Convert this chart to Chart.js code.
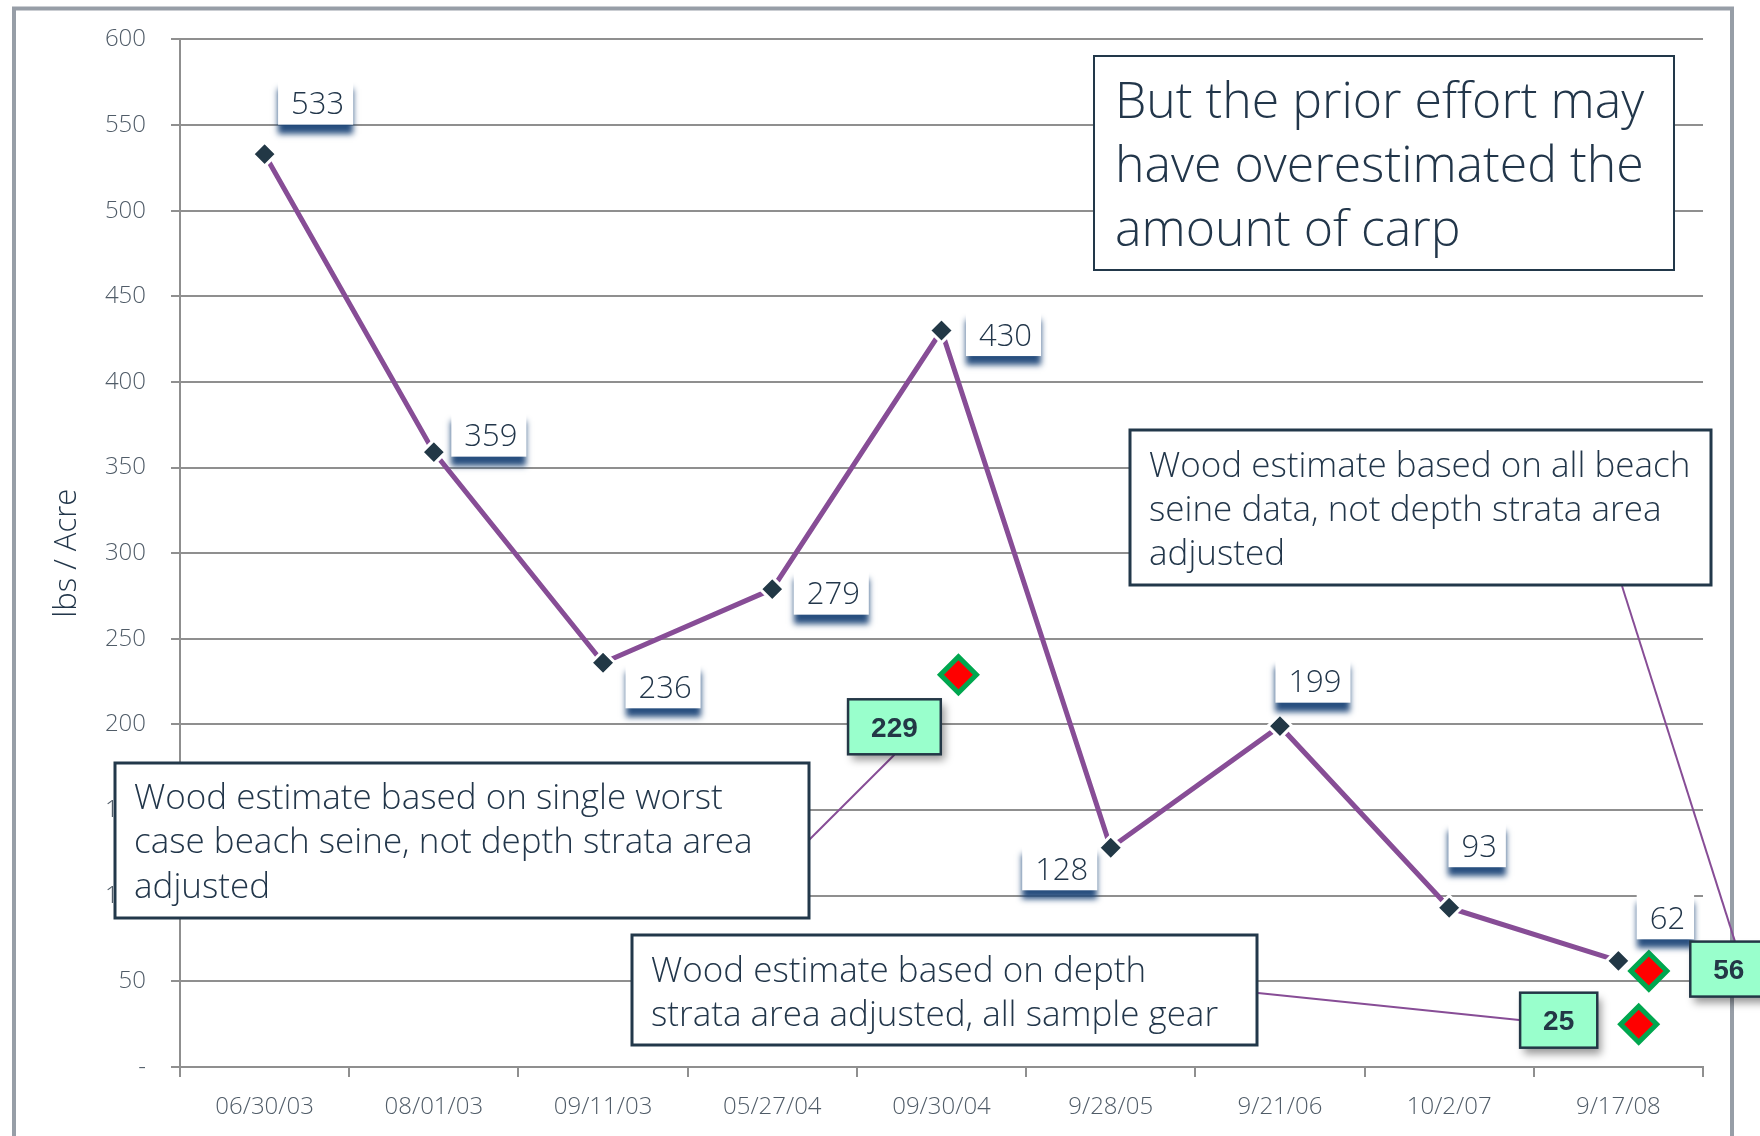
<!DOCTYPE html>
<html>
<head>
<meta charset="utf-8">
<script src="https://cdn.jsdelivr.net/npm/chart.js@4.4.1/dist/chart.umd.min.js"></script>
<style>
  html, body { margin: 0; padding: 0; background: #fff; }
  canvas { display: block; }
</style>
</head>
<body>
<canvas id="graficaCarpa" width="1760" height="1136"></canvas>
<script>
// survey dates and lbs/acre estimates
const fechas = ['06/30/03', '08/01/03', '09/11/03', '05/27/04', '09/30/04', '9/28/05', '9/21/06', '10/2/07', '9/17/08'];
const lbsPorAcre = [533, 359, 236, 279, 430, 128, 199, 93, 62];

// Wood estimates (red diamonds), placed between the category centres
const estimadosWood = [229, 56, 25];
const posEstimados = [4.1, 8.18, 8.12];

const yMin = 0;
const yMax = 600;
const yPaso = 50;

// label placement, offsets from the point in px
const offsetsEtiquetas = [[51, -52], [55, -18], [60, 23], [59, 3], [62, 3], [-51, 20], [33, -46], [28, -63], [47, -44]];
const offsetsEstimados = [[-64, 52], [80, -2], [-80, -4]];

const fuente = "'Open Sans', 'Noto Sans', sans-serif";
const colorTexto = '#22364a';
const colorMorado = '#874d96';

const notas = [
    { x: 1094, y: 56, w: 580, h: 214, borde: 2, size: 50, tx: 1115, lineas: [118, 182, 246],
      texto: ['But the prior effort may', 'have overestimated the', 'amount of carp'] },
    { x: 1130, y: 430, w: 581, h: 155, borde: 3, size: 35, tx: 1149, lineas: [477, 521, 565],
      texto: ['Wood estimate based on all beach', 'seine data, not depth strata area', 'adjusted'] },
    { x: 115, y: 763, w: 694, h: 155, borde: 3, size: 35, tx: 134, lineas: [809, 853, 898],
      texto: ['Wood estimate based on single worst', 'case beach seine, not depth strata area', 'adjusted'] },
    { x: 632, y: 935, w: 625, h: 110, borde: 3, size: 35, tx: 651, lineas: [982, 1026],
      texto: ['Wood estimate based on depth', 'strata area adjusted, all sample gear'] }
];

// lines from the notes to the green value boxes: start point, estimate index, end offset from box centre
const conectores = [
    { desde: [809, 840], est: 0, hasta: [0, 28] },
    { desde: [1258, 993], est: 2, hasta: [-37, 0] },
    { desde: [1622, 586], est: 1, hasta: [6, -28] }
];

function cajaValor(ctx, cx, cy, texto) {
    ctx.font = '300 31px ' + fuente;
    const w = ctx.measureText(texto).width + 22;
    const h = 45;
    ctx.save();
    ctx.shadowColor = 'rgba(28, 70, 120, 0.95)';
    ctx.shadowBlur = 6;
    ctx.shadowOffsetY = 9;
    ctx.fillStyle = '#fff';
    ctx.fillRect(cx - w / 2, cy - h / 2, w, h);
    ctx.restore();
    ctx.fillStyle = colorTexto;
    ctx.textAlign = 'center';
    ctx.textBaseline = 'alphabetic';
    ctx.fillText(texto, cx + 2, cy + 12);
}

function cajaEstimado(ctx, cx, cy, texto) {
    ctx.font = 'bold 28px "Liberation Sans", Arial, sans-serif';
    const w = ctx.measureText(texto).width + 46;
    const h = 55;
    ctx.save();
    ctx.shadowColor = 'rgba(0, 0, 0, 0.4)';
    ctx.shadowBlur = 8;
    ctx.shadowOffsetX = 4;
    ctx.shadowOffsetY = 6;
    ctx.fillStyle = '#99ffcc';
    ctx.fillRect(cx - w / 2, cy - h / 2, w, h);
    ctx.restore();
    ctx.strokeStyle = '#233746';
    ctx.lineWidth = 2.5;
    ctx.strokeRect(cx - w / 2, cy - h / 2, w, h);
    ctx.fillStyle = '#233746';
    ctx.textAlign = 'center';
    ctx.textBaseline = 'alphabetic';
    ctx.fillText(texto, cx, cy + 10);
}

const pluginMarco = {
    id: 'marco',
    beforeDraw: function (chart) {
        const ctx = chart.ctx;
        ctx.save();
        ctx.strokeStyle = '#979ea7';
        ctx.lineWidth = 4;
        ctx.beginPath();
        ctx.moveTo(14, 1136);
        ctx.lineTo(14, 8.5);
        ctx.lineTo(1732, 8.5);
        ctx.lineTo(1732, 1136);
        ctx.stroke();
        ctx.restore();
    }
};

const pluginNotas = {
    id: 'notas',
    afterDraw: function (chart) {
        const ctx = chart.ctx;
        const linea = chart.getDatasetMeta(0).data;
        const est = chart.getDatasetMeta(1).data;
        ctx.save();

        // connectors
        ctx.strokeStyle = colorMorado;
        ctx.lineWidth = 2;
        conectores.forEach(function (c) {
            const p = est[c.est];
            const o = offsetsEstimados[c.est];
            ctx.beginPath();
            ctx.moveTo(c.desde[0], c.desde[1]);
            ctx.lineTo(p.x + o[0] + c.hasta[0], p.y + o[1] + c.hasta[1]);
            ctx.stroke();
        });

        // text boxes
        notas.forEach(function (n) {
            ctx.fillStyle = '#fff';
            ctx.fillRect(n.x, n.y, n.w, n.h);
            ctx.strokeStyle = '#22384a';
            ctx.lineWidth = n.borde;
            ctx.strokeRect(n.x, n.y, n.w, n.h);
            ctx.fillStyle = colorTexto;
            ctx.font = '300 ' + n.size + 'px ' + fuente;
            ctx.textAlign = 'left';
            ctx.textBaseline = 'alphabetic';
            n.texto.forEach(function (t, i) {
                ctx.fillText(t, n.tx, n.lineas[i]);
            });
        });

        // value labels on the line
        linea.forEach(function (p, i) {
            const o = offsetsEtiquetas[i];
            cajaValor(ctx, p.x + o[0], p.y + o[1], String(lbsPorAcre[i]));
        });

        // value labels for the Wood estimates
        est.forEach(function (p, i) {
            const o = offsetsEstimados[i];
            cajaEstimado(ctx, p.x + o[0], p.y + o[1], String(estimadosWood[i]));
        });
        ctx.restore();
    }
};

document.addEventListener('DOMContentLoaded', function () {
    const ctx = document.getElementById('graficaCarpa').getContext('2d');
    new Chart(ctx, {
        type: 'line',
        data: {
            labels: fechas,
            datasets: [{
                label: 'lbs / Acre',
                data: lbsPorAcre,
                borderColor: colorMorado,
                borderWidth: 5,
                tension: 0,
                pointStyle: 'rectRot',
                pointRadius: 12,
                pointBackgroundColor: '#223846',
                pointBorderColor: '#ffffff',
                pointBorderWidth: 3
            }, {
                type: 'scatter',
                label: 'Wood estimate',
                xAxisID: 'x2',
                data: estimadosWood.map(function (v, i) { return { x: posEstimados[i], y: v }; }),
                showLine: false,
                pointStyle: 'rectRot',
                pointRadius: 18,
                pointBackgroundColor: '#ff0000',
                pointBorderColor: '#00a74f',
                pointBorderWidth: 5
            }]
        },
        options: {
            responsive: false,
            animation: false,
            devicePixelRatio: 1,
            layout: { padding: { top: 39, right: 57, bottom: 0, left: 0 } },
            plugins: {
                legend: { display: false },
                tooltip: { enabled: false }
            },
            scales: {
                x: {
                    type: 'category',
                    offset: true,
                    grid: { drawOnChartArea: false, offset: true, color: '#8f8f8f', lineWidth: 2, tickLength: 10 },
                    border: { color: '#8f8f8f', width: 2 },
                    ticks: { color: '#505c68', font: { family: fuente, size: 24, weight: '300' }, padding: 16, maxRotation: 0 },
                    afterFit: function (scale) { scale.height = 69; }
                },
                x2: {
                    type: 'linear',
                    display: false,
                    min: -0.5,
                    max: fechas.length - 0.5
                },
                y: {
                    min: yMin,
                    max: yMax,
                    ticks: {
                        stepSize: yPaso,
                        color: '#505c68',
                        font: { family: fuente, size: 24, weight: '300' },
                        padding: 25,
                        callback: function (v) { return v === 0 ? '-' : v; }
                    },
                    grid: { color: '#8f8f8f', lineWidth: 2, tickLength: 9 },
                    border: { color: '#8f8f8f', width: 2 },
                    title: {
                        display: true,
                        text: 'lbs / Acre',
                        color: colorTexto,
                        font: { family: fuente, size: 31, weight: '300' },
                        padding: { top: 49, bottom: 0 }
                    },
                    afterFit: function (scale) { scale.width = 180; }
                }
            }
        },
        plugins: [pluginMarco, pluginNotas]
    });
});
</script>
</body>
</html>
